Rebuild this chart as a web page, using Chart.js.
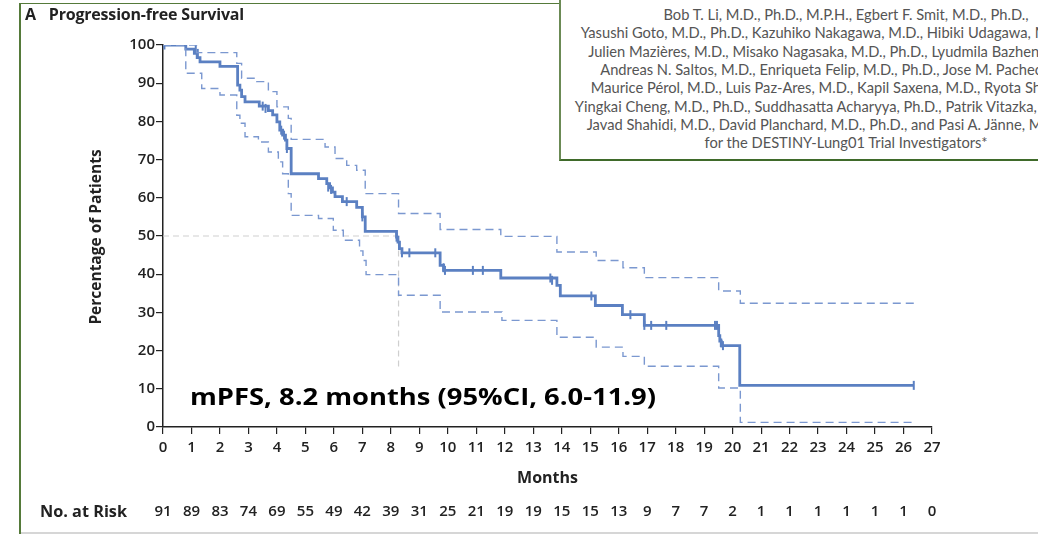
<!DOCTYPE html>
<html>
<head>
<meta charset="utf-8">
<script src="https://cdn.jsdelivr.net/npm/chart.js@4.4.1/dist/chart.umd.min.js"></script>
<style>
  body { margin: 0; background: #fff; }
  #wrap { position: relative; width: 1038px; height: 534px; overflow: hidden; }
  #chartCanvas { position: absolute; left: 0; top: 0; }
  #frameLeft { position: absolute; left: 19px; top: 3px; width: 2px; height: 531px; background: #557a3a; }
  #frameTop { position: absolute; left: 19px; top: 3px; width: 541px; height: 1px; background: #557a3a; }
  #frameBottom { position: absolute; left: 21px; top: 532px; width: 1017px; height: 2px; background: #d6d6d6; }
  #panelTitle { position: absolute; left: 25px; top: 3px; font: bold 16px "Open Sans", sans-serif; color: #222; white-space: nowrap; letter-spacing: -0.2px; }
  #panelTitle span { margin-left: 13px; }
  #authors { position: absolute; left: 559px; top: -2px; width: 572px; height: 163px;
    border-left: 2px solid #6b8a55; border-bottom: 2px solid #3f6a2a; background: #fff;
    font: 14.7px Lato, sans-serif; color: #555; box-sizing: border-box; }
  #authors div { position: absolute; left: 285px; transform: translateX(-50%); white-space: nowrap; line-height: 18px; }
</style>
</head>
<body>
<div id="wrap">
  <canvas id="chartCanvas" width="1038" height="534"></canvas>
  <div id="frameLeft"></div>
  <div id="frameTop"></div>
  <div id="frameBottom"></div>
  <div id="panelTitle">A<span>Progression-free Survival</span></div>
  <div id="authors"></div>
</div>
<script>
// Kaplan-Meier estimate (value after each step, in percent)
const pfsMonths = [0, 0.8, 1.1, 1.2, 1.3, 2.0, 2.62, 2.7, 2.76, 2.88, 3.38, 3.7, 3.85, 4.0, 4.1, 4.2, 4.3, 4.35, 4.5,
  5.46, 5.75, 5.85, 5.95, 6.04, 6.3, 6.8, 7.0, 7.1, 8.2, 8.25, 8.3, 8.39, 9.73, 9.85, 11.86, 13.83, 13.95,
  15.18, 16.13, 16.9, 19.51, 19.55, 19.6, 20.25, 26.36];
const pfsValues = [100, 98.9, 97.8, 96.7, 95.6, 94.4, 89.5, 88.2, 86.5, 85.1, 84.0, 82.8, 81.7, 79.9, 77.7, 76.4, 75.1, 72.9, 66.3,
  65.0, 63.7, 62.6, 61.5, 60.3, 59.0, 57.5, 55.0, 51.2, 49.7, 48.4, 46.7, 45.6, 42.3, 41.0, 39.0, 37.1, 34.3,
  31.8, 29.4, 26.6, 23.9, 22.5, 21.3, 10.9, 10.9];

// 95% confidence band
const upperMonths = [0, 1.18, 2.59, 2.76, 3.29, 3.7, 4.0, 4.4, 4.5, 5.69, 6.04, 6.45, 6.8, 7.1, 8.27, 9.73, 11.86,
  13.83, 15.21, 16.15, 16.9, 19.51, 20.27, 26.36];
const upperValues = [100, 98.0, 95.2, 91.3, 90.4, 87.8, 83.8, 80.8, 75.3, 73.3, 70.3, 68.5, 67.2, 61.1, 55.9, 51.7, 49.9,
  45.8, 43.6, 41.7, 39.1, 35.6, 32.4, 32.4];
const lowerMonths = [0, 0.8, 1.36, 2.0, 2.59, 2.7, 2.88, 3.35, 3.7, 4.05, 4.2, 4.4, 4.5, 5.46, 5.98, 6.33, 6.9, 7.02, 7.13,
  8.27, 9.73, 11.9, 13.83, 15.21, 16.15, 16.9, 19.51, 20.27, 26.36];
const lowerValues = [100, 92.6, 88.6, 86.9, 81.6, 79.5, 76.0, 74.6, 72.0, 69.4, 66.3, 61.1, 55.4, 54.6, 51.5, 48.9, 46.1, 43.6, 39.9,
  34.5, 30.1, 27.9, 23.5, 20.9, 18.5, 15.9, 10.2, 1.2, 1.2];

// censored observations
const censorMonths = [0.05, 1.15, 1.22, 3.5, 3.6, 4.15, 4.25, 4.35, 5.8, 5.9, 6.45, 7.0, 8.2, 8.3, 8.39, 8.65, 9.56,
  9.85, 9.9, 10.88, 11.23, 13.6, 13.66, 15.04, 16.41, 16.9, 17.14, 17.67, 19.38, 19.45, 19.6, 19.66, 26.36];
const censorValues = [100, 98.9, 97.8, 84.0, 83.4, 77.7, 76.4, 72.9, 62.8, 62.2, 59.0, 55.0, 49.7, 47.5, 45.6, 45.6, 45.6,
  41.7, 41.0, 41.0, 41.0, 39.0, 38.4, 34.3, 29.4, 26.6, 26.6, 26.6, 26.6, 26.6, 22.0, 21.3, 10.9];

// median reference lines
const medianMonths = 8.27;
const medianLevel = 50;
const medianLineBottom = 15.6;

const monthTicks = [0, 1, 2, 3, 4, 5, 6, 7, 8, 9, 10, 11, 12, 13, 14, 15, 16, 17, 18, 19, 20, 21, 22, 23, 24, 25, 26, 27];
const atRisk = [91, 89, 83, 74, 69, 55, 49, 42, 39, 31, 25, 21, 19, 19, 15, 15, 13, 9, 7, 7, 2, 1, 1, 1, 1, 1, 1, 0];

const authorLines = [
  'Bob T. Li, M.D., Ph.D., M.P.H., Egbert F. Smit, M.D., Ph.D.,',
  'Yasushi Goto, M.D., Ph.D., Kazuhiko Nakagawa, M.D., Hibiki Udagawa, M.D., Ph.D.,',
  'Julien Mazières, M.D., Misako Nagasaka, M.D., Ph.D., Lyudmila Bazhenova, M.D.,',
  'Andreas N. Saltos, M.D., Enriqueta Felip, M.D., Ph.D., Jose M. Pacheco, M.D.,',
  'Maurice Pérol, M.D., Luis Paz-Ares, M.D., Kapil Saxena, M.D., Ryota Shiga, M.D.,',
  'Yingkai Cheng, M.D., Ph.D., Suddhasatta Acharyya, Ph.D., Patrik Vitazka, M.D., Ph.D.,',
  'Javad Shahidi, M.D., David Planchard, M.D., Ph.D., and Pasi A. Jänne, M.D., Ph.D.,',
  'for the DESTINY-Lung01 Trial Investigators*'
];

const blue = '#5b80c2';
const blueDash = '#7b98d0';
const axisColor = '#222';
const tickFont = { family: '"Open Sans", sans-serif', size: 15, weight: '600' };

// author box
const authorsBox = document.getElementById('authors');
authorLines.forEach((line, i) => {
    const d = document.createElement('div');
    d.textContent = line;
    d.style.top = (7 + i * 18.3) + 'px';
    authorsBox.appendChild(d);
});

function toPoints(xs, ys) {
    return xs.map((x, i) => ({ x: x, y: ys[i] }));
}

// draw text squeezed/stretched to a given width
function fitText(ctx, text, x, y, width) {
    const w = ctx.measureText(text).width;
    ctx.save();
    ctx.translate(x, y);
    ctx.scale(width / w, 1);
    ctx.fillText(text, 0, 0);
    ctx.restore();
}

// Extra text: axis titles, at-risk row, median guide and annotation
const extrasPlugin = {
    id: 'extras',
    beforeDatasetsDraw(chart) {
        const ctx = chart.ctx;
        const xs = chart.scales.x, ys = chart.scales.y;
        ctx.save();
        ctx.strokeStyle = '#cfcfcf';
        ctx.lineWidth = 1.2;
        ctx.setLineDash([6, 4]);
        ctx.beginPath();
        ctx.moveTo(xs.getPixelForValue(0), ys.getPixelForValue(medianLevel));
        ctx.lineTo(xs.getPixelForValue(medianMonths), ys.getPixelForValue(medianLevel));
        ctx.lineTo(xs.getPixelForValue(medianMonths), ys.getPixelForValue(medianLineBottom));
        ctx.stroke();
        ctx.restore();
    },
    afterDraw(chart) {
        const ctx = chart.ctx;
        const xs = chart.scales.x;
        ctx.save();
        ctx.fillStyle = '#222';
        ctx.textBaseline = 'middle';

        ctx.font = 'bold 16px "Open Sans", sans-serif';
        ctx.textAlign = 'center';
        ctx.fillText('Months', xs.getPixelForValue(13.5), 478);

        ctx.save();
        ctx.translate(97, 237);
        ctx.rotate(-Math.PI / 2);
        ctx.font = 'bold 15.5px "Open Sans", sans-serif';
        ctx.fillText('Percentage of Patients', 0, 0);
        ctx.restore();

        ctx.textAlign = 'left';
        ctx.font = 'bold 16px "Open Sans", sans-serif';
        fitText(ctx, 'No. at Risk', 40, 512, 87);

        ctx.textAlign = 'center';
        ctx.font = '600 15px "Open Sans", sans-serif';
        atRisk.forEach((n, i) => {
            ctx.fillText(String(n), xs.getPixelForValue(monthTicks[i]), 512);
        });

        ctx.fillStyle = '#000';
        ctx.textAlign = 'left';
        ctx.font = 'bold 23px "Open Sans", sans-serif';
        fitText(ctx, 'mPFS, 8.2 months (95%CI, 6.0-11.9)', 190, 398, 466);
        ctx.restore();
    }
};

const ctx = document.getElementById('chartCanvas').getContext('2d');
new Chart(ctx, {
    type: 'line',
    data: {
        datasets: [
            {
                label: 'Upper 95% CI',
                data: toPoints(upperMonths, upperValues),
                borderColor: blueDash,
                borderWidth: 1.4,
                borderDash: [8, 5],
                stepped: 'before',
                pointRadius: 0,
                fill: false
            },
            {
                label: 'Lower 95% CI',
                data: toPoints(lowerMonths, lowerValues),
                borderColor: blueDash,
                borderWidth: 1.4,
                borderDash: [8, 5],
                stepped: 'before',
                pointRadius: 0,
                fill: false
            },
            {
                label: 'PFS',
                data: toPoints(pfsMonths, pfsValues),
                borderColor: blue,
                borderWidth: 2.8,
                stepped: 'before',
                pointRadius: 0,
                fill: false
            },
            {
                label: 'Censored',
                type: 'scatter',
                data: toPoints(censorMonths, censorValues),
                pointStyle: 'line',
                rotation: 90,
                pointRadius: 4.5,
                borderColor: blue,
                backgroundColor: blue,
                pointBorderWidth: 2,
                showLine: false
            }
        ]
    },
    options: {
        responsive: false,
        animation: false,
        layout: { padding: { left: 0, top: 45, right: 106, bottom: 0 } },
        plugins: {
            legend: { display: false },
            tooltip: { enabled: false }
        },
        scales: {
            x: {
                type: 'linear',
                min: 0,
                max: 27,
                afterFit(scale) { scale.height = 107; },
                afterBuildTicks(scale) { scale.ticks = monthTicks.map(v => ({ value: v })); },
                ticks: { color: axisColor, font: tickFont, padding: 5, maxRotation: 0, autoSkip: false },
                grid: { drawOnChartArea: false, drawTicks: true, tickLength: 7, color: axisColor, lineWidth: 1.2 },
                border: { display: true, color: axisColor, width: 1.5 }
            },
            y: {
                min: 0,
                max: 100,
                afterFit(scale) { scale.width = 163; },
                ticks: { stepSize: 10, color: axisColor, font: tickFont, padding: 1 },
                grid: { drawOnChartArea: false, drawTicks: true, tickLength: 7, color: axisColor, lineWidth: 1.2 },
                border: { display: true, color: axisColor, width: 1.5 }
            }
        }
    },
    plugins: [extrasPlugin]
});
</script>
</body>
</html>
